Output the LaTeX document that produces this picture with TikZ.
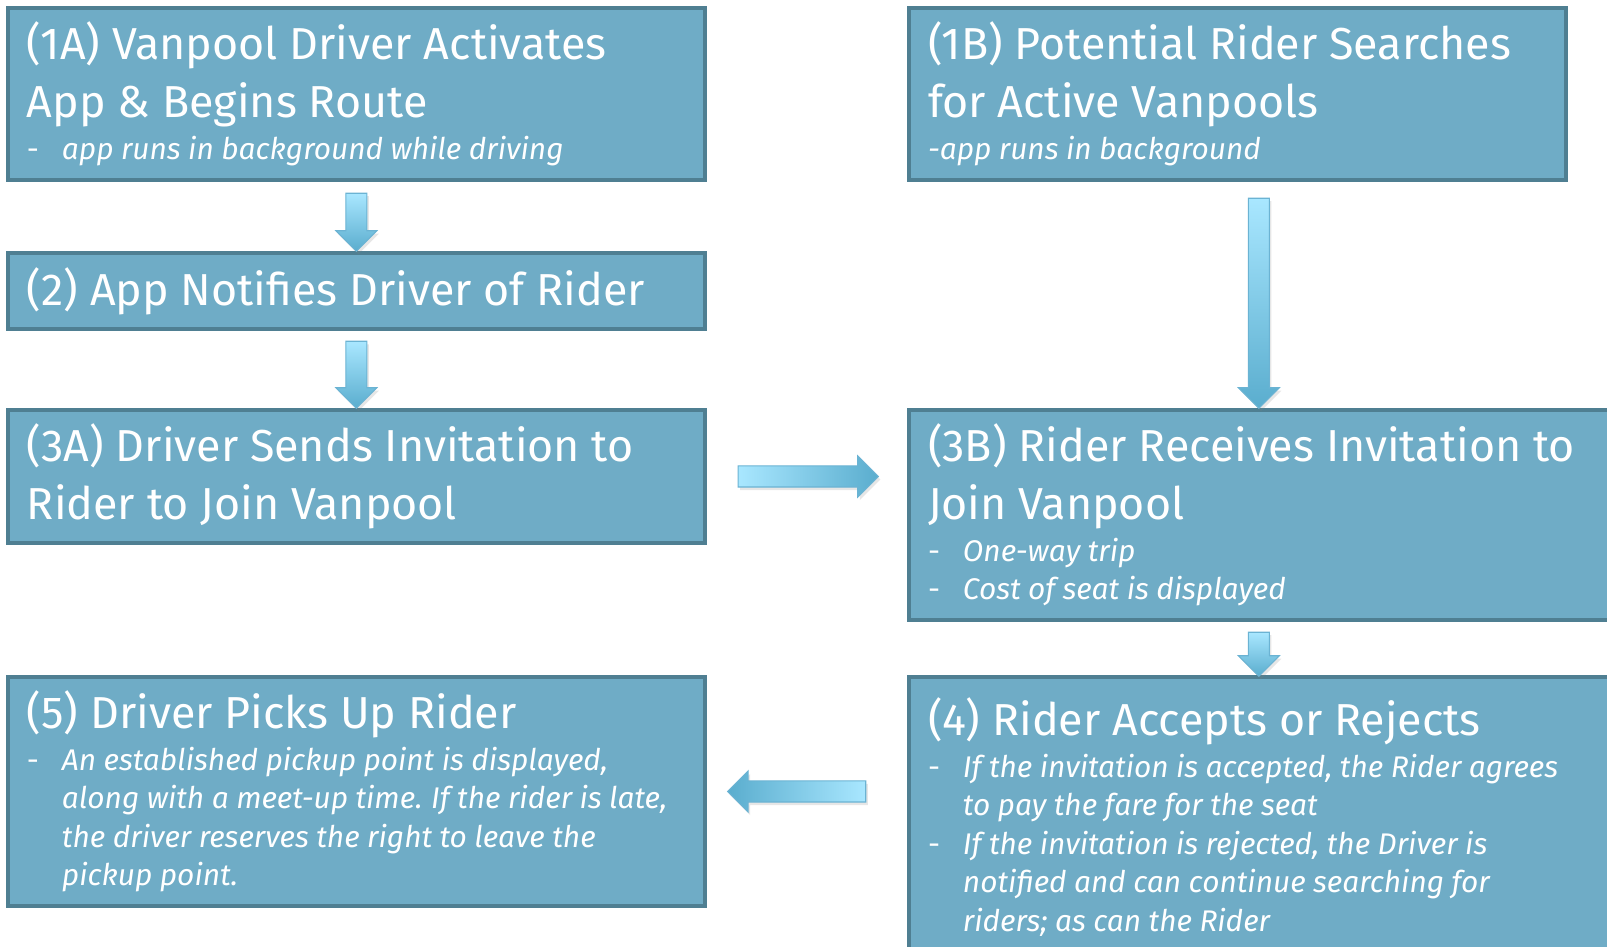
\documentclass[tikz,border=0pt]{standalone}
\usepackage{fontspec}
\setmainfont{Fira Sans}
\usetikzlibrary{shapes.arrows, calc, shadows}

\definecolor{boxfill}{HTML}{6FACC6}
\definecolor{boxline}{HTML}{4F7F92}
\definecolor{arrowlight}{HTML}{A9E7FF}
\definecolor{arrowdark}{HTML}{5AADCE}
\definecolor{arrowline}{HTML}{6BB3D3}

\newlength{\bulind}\setlength{\bulind}{0.7cm}
\newcommand{\bul}{\makebox[\bulind][l]{\upshape -}}
\newcommand{\cnt}{\hspace*{\bulind}}
\newcommand{\tfont}{\fontsize{25.5}{32.7}\selectfont\spaceskip=0.265em}
\newcommand{\sfont}{\vspace{2pt}\fontsize{17}{21.9}\selectfont\itshape\spaceskip=0.25em}

% block arrow from tail to tip, light at the tail
\newcommand{\flowarrow}[2]{%
  \path let \p1=(#1), \p2=(#2),
    \n1={atan2(\y2-\y1,\x2-\x1)}, \n2={veclen(\x2-\x1,\y2-\y1)}, \n3={\n1+90} in
    node[flowarrow, minimum height=\n2, rotate=\n1, shading angle=\n3]
    at ($(\p1)!0.5!(\p2)$) {\rule{0pt}{0.4cm}};}

\begin{document}
\begin{tikzpicture}[x=0.02cm, y=-0.02cm,
  stepbox/.style={draw=boxline, fill=boxfill, line width=0.08cm,
    anchor=north west, inner xsep=0.38cm, inner ysep=0pt, outer sep=0pt,
    text=white, align=left},
  flowarrow/.style={single arrow, draw=arrowline, line width=0.6pt,
    top color=arrowlight, bottom color=arrowdark,
    minimum width=0.8cm, single arrow head extend=0.2cm,
    single arrow tip angle=90, inner sep=0pt,
    drop shadow={shadow xshift=0.04cm, shadow yshift=-0.06cm, opacity=0.2}}]
  \path[use as bounding box, clip] (0,0) rectangle (1607,947);

  % Driver column
  \node[stepbox, minimum width=13.94cm, minimum height=3.44cm, text width=13.18cm]
    (box1a) at (8,8)
    {{\tfont (1A) Vanpool Driver Activates\\App \& Begins Route\par}
     {\sfont\bul app runs in background while driving\par}};
  \node[stepbox, minimum width=13.94cm, minimum height=1.52cm, text width=13.18cm]
    (box2) at (8,253)
    {{\tfont (2) App Notifies Driver of Rider\par}};
  \node[stepbox, minimum width=13.94cm, minimum height=2.66cm, text width=13.18cm]
    (box3a) at (8,410)
    {{\tfont (3A) Driver Sends Invitation to\\Rider to Join Vanpool\par}};
  \node[stepbox, minimum width=13.94cm, minimum height=4.58cm, text width=13.18cm]
    (box5) at (8,677)
    {{\tfont (5) Driver Picks Up Rider\par}
     {\sfont\bul An established pickup point is displayed,\\
      \cnt along with a meet-up time. If the rider is late,\\
      \cnt the driver reserves the right to leave the\\
      \cnt pickup point.\par}};

  % Rider column
  \node[stepbox, minimum width=13.14cm, minimum height=3.44cm, text width=12.38cm]
    (box1b) at (909,8)
    {{\tfont (1B) Potential Rider Searches\\for Active Vanpools\par}
     {\sfont -app runs in background\par}};
  \node[stepbox, minimum width=14cm, minimum height=4.2cm, text width=13.24cm]
    (box3b) at (909,410)
    {{\tfont (3B) Rider Receives Invitation to\\Join Vanpool\par}
     {\sfont\bul One-way trip\\
      \bul Cost of seat is displayed\par}};
  \node[stepbox, minimum width=14cm, minimum height=5.6cm, text width=13.24cm]
    (box4) at (909,677)
    {{\tfont (4) Rider Accepts or Rejects\par}
     {\sfont\bul If the invitation is accepted, the Rider agrees\\
      \cnt to pay the fare for the seat\\
      \bul If the invitation is rejected, the Driver is\\
      \cnt notified and can continue searching for\\
      \cnt riders; as can the Rider\par}};

  % Arrows
  \flowarrow{[yshift=-0.16cm]box1a.south}{[yshift=0.14cm]box2.north}
  \flowarrow{[yshift=-0.14cm]box2.south}{[yshift=0.14cm]box3a.north}
  \flowarrow{[yshift=-0.26cm]box1b.south -| box3b.north}{[yshift=0.14cm]box3b.north}
  \flowarrow{[yshift=-0.14cm]box3b.south}{[yshift=0.12cm]box4.north}
  \flowarrow{[xshift=0.56cm]box3a.east}{[xshift=-0.72cm]box3b.west |- box3a.east}
  \flowarrow{[xshift=-0.76cm]box4.west |- box5.east}{[xshift=0.56cm]box5.east}
\end{tikzpicture}
\end{document}
